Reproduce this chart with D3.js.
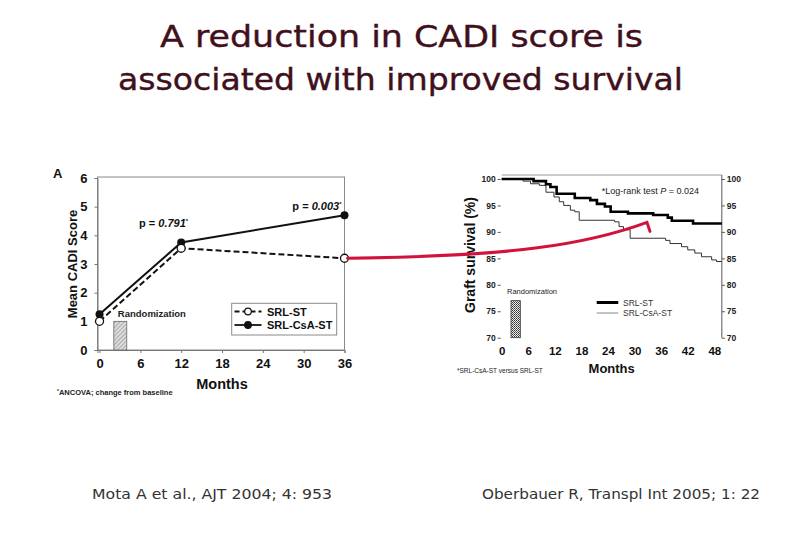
<!DOCTYPE html>
<html>
<head>
<meta charset="utf-8">
<script src="https://cdn.jsdelivr.net/npm/d3@7"></script>
<style>
  html, body { margin: 0; padding: 0; background: #fff; }
  svg { display: block; }
  text { font-family: "Liberation Sans", Arial, sans-serif; }
</style>
</head>
<body>
<svg id="chart" width="810" height="540"></svg>
<script>
// ---------- DATA ----------
const titleLines = ["A reduction in CADI score is", "associated with improved survival"];
const footLeft = "Mota A et al., AJT 2004; 4: 953";
const footRight = "Oberbauer R, Transpl Int 2005; 1: 22";

// Panel A: mean CADI score
const cadiMonths = [0, 12, 36];
const cadiSRLST = [1.0, 3.55, 3.2];
const cadiSRLCsA = [1.25, 3.75, 4.7];
const cadiXTicks = [0, 6, 12, 18, 24, 30, 36];
const cadiYTicks = [0, 1, 2, 3, 4, 5, 6];
const cadiPLabels = ["0.791", "0.003"];
const cadiPMonths = [12, 36];
const randomizationMonths = [2.1, 4.0];
const randomizationCadiHeight = 1.0;

// Graft survival (Kaplan-Meier steps)
const survMonthsST = [0, 7.2, 10, 11, 12.4, 16.5, 20, 21.5, 23.3, 24.6, 28.5, 34.2, 37.5, 38.4, 43.2, 49.7];
const survST = [100, 99.6, 99.0, 98.5, 97.2, 96.4, 96.0, 95.3, 94.8, 93.8, 93.5, 93.2, 92.7, 92.1, 91.6, 91.6];
const survMonthsCsA = [0, 4.8, 6.5, 8.5, 10, 11.8, 13, 14, 15.5, 16.5, 17.5, 25.5, 26.5, 27.5, 29, 37, 38, 40.6, 42, 43.6, 45.1, 47.4, 48.5, 49.7];
const survCsA = [100, 99.6, 99.1, 98.8, 97.5, 96.6, 95.7, 95.0, 94.1, 93.8, 92.2, 91.9, 91.0, 90.4, 88.8, 88.4, 87.8, 87.2, 86.6, 86.0, 85.3, 84.7, 84.4, 84.4];
const survXTicks = [0, 6, 12, 18, 24, 30, 36, 42, 48];
const survYTicks = [70, 75, 80, 85, 90, 95, 100];
const survRandMonths = [2.1, 4.2];
const survRandTop = 77;
const arrowTarget = [32.8, 91.8]; // month, survival %

// ---------- DRAW ----------
const svg = d3.select("#chart");
const defs = svg.append("defs");
const hatch = defs.append("pattern").attr("id", "hatchA").attr("patternUnits", "userSpaceOnUse")
  .attr("width", 3).attr("height", 3).attr("patternTransform", "rotate(45)");
hatch.append("rect").attr("width", 3).attr("height", 3).attr("fill", "#ddd");
hatch.append("line").attr("x1", 0).attr("y1", 0).attr("x2", 0).attr("y2", 3).attr("stroke", "#777").attr("stroke-width", 1);
const dots = defs.append("pattern").attr("id", "dotsB").attr("patternUnits", "userSpaceOnUse")
  .attr("width", 2).attr("height", 2);
dots.append("rect").attr("width", 2).attr("height", 2).attr("fill", "#eee");
dots.append("rect").attr("width", 1).attr("height", 1).attr("fill", "#333");
dots.append("rect").attr("x", 1).attr("y", 1).attr("width", 1).attr("height", 1).attr("fill", "#555");

// Title
const titleColor = "#40101c";
const titleX = [[160, 643], [118, 683]];
const titleY = [47, 90];
titleLines.forEach((t, i) => {
  svg.append("text").attr("x", titleX[i][0]).attr("y", titleY[i])
    .attr("textLength", titleX[i][1] - titleX[i][0]).attr("lengthAdjust", "spacingAndGlyphs")
    .style("font-family", "'DejaVu Sans', sans-serif").style("font-size", "31px")
    .attr("fill", titleColor).attr("stroke", titleColor).attr("stroke-width", 0.4).text(t);
});

// Footers
svg.append("text").attr("x", 92).attr("y", 499).attr("textLength", 240).attr("lengthAdjust", "spacingAndGlyphs")
  .style("font-family", "'DejaVu Sans', sans-serif").style("font-size", "14px").attr("fill", "#333").text(footLeft);
svg.append("text").attr("x", 482).attr("y", 499).attr("textLength", 278).attr("lengthAdjust", "spacingAndGlyphs")
  .style("font-family", "'DejaVu Sans', sans-serif").style("font-size", "14px").attr("fill", "#333").text(footRight);

// ----- Panel A -----
const xL = d3.scaleLinear().domain([-0.3, 36]).range([97.5, 344.5]);
const yL = d3.scaleLinear().domain([0, 6]).range([350, 178]);
const gA = svg.append("g");

// frame
gA.append("rect").attr("x", xL.range()[0]).attr("y", 177).attr("width", xL.range()[1] - xL.range()[0])
  .attr("height", yL(0) - 177).attr("fill", "none").attr("stroke", "#8a8a8a").attr("stroke-width", 1);

const axL = gA.append("g").attr("transform", `translate(${xL.range()[0]},0)`)
  .call(d3.axisLeft(yL).tickValues(cadiYTicks).tickFormat(d3.format("d")).tickSize(3).tickPadding(7));
const axB = gA.append("g").attr("transform", `translate(0,${yL(0)})`)
  .call(d3.axisBottom(xL).tickValues(cadiXTicks).tickFormat(d3.format("d")).tickSize(3).tickPadding(6));
[axL, axB].forEach(a => {
  a.select(".domain").attr("stroke", "#777");
  a.selectAll(".tick line").attr("stroke", "#777");
  a.selectAll(".tick text").style("font-size", "13px").style("font-weight", "bold").attr("fill", "#111");
});

// randomization bar
gA.append("rect").attr("x", xL(randomizationMonths[0])).attr("y", yL(randomizationCadiHeight))
  .attr("width", xL(randomizationMonths[1]) - xL(randomizationMonths[0]))
  .attr("height", yL(0) - yL(randomizationCadiHeight))
  .attr("fill", "url(#hatchA)").attr("stroke", "#666").attr("stroke-width", 0.8);
gA.append("text").attr("x", xL(randomizationMonths[0]) + 4).attr("y", yL(randomizationCadiHeight) - 4)
  .style("font-size", "9.5px").style("font-weight", "bold").attr("fill", "#222").text("Randomization");

// lines
const lineL = d3.line().x(d => xL(d[0])).y(d => yL(d[1]));
const ptsST = cadiMonths.map((m, i) => [m, cadiSRLST[i]]);
const ptsCsA = cadiMonths.map((m, i) => [m, cadiSRLCsA[i]]);
gA.append("path").attr("d", lineL(ptsCsA)).attr("fill", "none").attr("stroke", "#111").attr("stroke-width", 2);
gA.append("path").attr("d", lineL(ptsST)).attr("fill", "none").attr("stroke", "#111").attr("stroke-width", 2)
  .attr("stroke-dasharray", "6,3");
gA.selectAll(".ptCsA").data(ptsCsA).join("circle").attr("cx", d => xL(d[0])).attr("cy", d => yL(d[1]))
  .attr("r", 4).attr("fill", "#111");
gA.selectAll(".ptST").data(ptsST).join("circle").attr("cx", d => xL(d[0])).attr("cy", d => yL(d[1]))
  .attr("r", 4).attr("fill", "#fff").attr("stroke", "#111").attr("stroke-width", 1.3);

// p labels
const pY = [227, 210];
cadiPLabels.forEach((p, i) => {
  const xEnd = xL(cadiPMonths[i]);
  const t = gA.append("text").attr("x", i === 0 ? xEnd + 7 : xEnd - 3).attr("y", pY[i])
    .attr("text-anchor", "end").style("font-size", "11px").style("font-weight", "bold").attr("fill", "#111");
  t.append("tspan").text("p = ");
  t.append("tspan").style("font-style", "italic").text(p);
  t.append("tspan").attr("dy", -4).style("font-size", "6px").text("*");
});

// axis titles
gA.append("text").attr("transform", `translate(76.5,${(yL(0) + yL(6)) / 2}) rotate(-90)`)
  .attr("text-anchor", "middle").style("font-size", "13px").style("font-weight", "bold").attr("fill", "#111")
  .text("Mean CADI Score");
gA.append("text").attr("x", (xL(0) + xL(36)) / 2).attr("y", 389).attr("text-anchor", "middle")
  .style("font-size", "14.5px").style("font-weight", "bold").attr("fill", "#111").text("Months");
gA.append("text").attr("x", 53).attr("y", 178).style("font-size", "13px").style("font-weight", "bold")
  .attr("fill", "#111").text("A");
const fnA = gA.append("text").attr("x", 57).attr("y", 395).style("font-size", "7.5px").style("font-weight", "bold").attr("fill", "#222");
fnA.append("tspan").attr("dy", -2).style("font-size", "5px").text("*");
fnA.append("tspan").attr("dy", 2).text("ANCOVA; change from baseline");

// legend A
const lgA = gA.append("g");
lgA.append("rect").attr("x", 231.7).attr("y", 303.3).attr("width", 105).attr("height", 31.7)
  .attr("fill", "#fff").attr("stroke", "#8a8a8a").attr("stroke-width", 1);
const lgItems = [{ name: "SRL-ST", dash: "5,3", fill: "#fff", y: 311.5 }, { name: "SRL-CsA-ST", dash: null, fill: "#111", y: 325 }];
lgItems.forEach(it => {
  lgA.append("line").attr("x1", 234.5).attr("x2", 261.5).attr("y1", it.y).attr("y2", it.y)
    .attr("stroke", "#111").attr("stroke-width", 1.8).attr("stroke-dasharray", it.dash);
  lgA.append("circle").attr("cx", 248).attr("cy", it.y).attr("r", 3.3).attr("fill", it.fill)
    .attr("stroke", "#111").attr("stroke-width", 1.2);
  lgA.append("text").attr("x", 267).attr("y", it.y + 4).style("font-size", "11px").style("font-weight", "bold")
    .attr("fill", "#111").text(it.name);
});

// ----- Survival panel -----
const xR = d3.scaleLinear().domain([0, 48]).range([501.7, 714.3]);
const yR = d3.scaleLinear().domain([70, 100]).range([337.7, 179]);
const gB = svg.append("g");
const xRight = xR(49.7);
gB.append("line").attr("x1", xR(0)).attr("x2", xRight).attr("y1", 175).attr("y2", 175).attr("stroke", "#999").attr("stroke-width", 1);

const axRL = gB.append("g").attr("transform", `translate(${xR(0) - 1},0)`)
  .call(d3.axisLeft(yR).tickValues(survYTicks).tickSize(3).tickPadding(2));
const axRR = gB.append("g").attr("transform", `translate(${xRight},0)`)
  .call(d3.axisRight(yR).tickValues(survYTicks).tickSize(3).tickPadding(2));
axRL.select(".domain").remove();
axRR.select(".domain").attr("d", `M0,175V${yR(70)}`).attr("stroke", "#555");
[axRL, axRR].forEach(a => {
  a.selectAll(".tick line").attr("stroke", "#555");
  a.selectAll(".tick text").style("font-size", "8.5px").style("font-weight", "bold").attr("fill", "#222");
});
const axRB = gB.append("g").attr("transform", `translate(0,${yR(70)})`)
  .call(d3.axisBottom(xR).tickValues(survXTicks).tickSize(0).tickPadding(9));
axRB.select(".domain").remove();
axRB.selectAll(".tick text").style("font-size", "11.5px").style("font-weight", "bold").attr("fill", "#111");

// randomization bar
gB.append("rect").attr("x", xR(survRandMonths[0])).attr("y", yR(survRandTop))
  .attr("width", xR(survRandMonths[1]) - xR(survRandMonths[0])).attr("height", yR(70) - yR(survRandTop))
  .attr("fill", "url(#dotsB)").attr("stroke", "#333").attr("stroke-width", 0.8);
gB.append("text").attr("x", 507).attr("y", 294).style("font-size", "7.5px").attr("fill", "#222").text("Randomization");

// KM curves
const stepLine = d3.line().x(d => xR(d[0])).y(d => yR(d[1])).curve(d3.curveStepAfter);
gB.append("path").attr("d", stepLine(survMonthsCsA.map((m, i) => [m, survCsA[i]])))
  .attr("fill", "none").attr("stroke", "#333").attr("stroke-width", 1);
gB.append("path").attr("d", stepLine(survMonthsST.map((m, i) => [m, survST[i]])))
  .attr("fill", "none").attr("stroke", "#000").attr("stroke-width", 2.6);

// annotation
const lr = gB.append("text").attr("x", 601.7).attr("y", 193.5).style("font-size", "9px").attr("fill", "#222");
lr.append("tspan").text("*Log-rank test ");
lr.append("tspan").style("font-style", "italic").text("P");
lr.append("tspan").text(" = 0.024");

// legend B
const lgB = [{ name: "SRL-ST", w: 3, c: "#000", y: 302.5 }, { name: "SRL-CsA-ST", w: 1, c: "#888", y: 313 }];
lgB.forEach(it => {
  gB.append("line").attr("x1", 596.7).attr("x2", 618.3).attr("y1", it.y).attr("y2", it.y)
    .attr("stroke", it.c).attr("stroke-width", it.w);
  gB.append("text").attr("x", 623).attr("y", it.y + 3).style("font-size", "8.5px").attr("fill", "#333").text(it.name);
});

// axis titles
gB.append("text").attr("transform", `translate(475,255) rotate(-90)`).attr("text-anchor", "middle")
  .style("font-size", "14px").style("font-weight", "bold").attr("fill", "#111").text("Graft survival (%)");
gB.append("text").attr("x", 611.7).attr("y", 373).attr("text-anchor", "middle")
  .style("font-size", "13px").style("font-weight", "bold").attr("fill", "#111").text("Months");
gB.append("text").attr("x", 457).attr("y", 373).style("font-size", "6.5px").attr("fill", "#222")
  .text("*SRL-CsA-ST versus SRL-ST");

// ----- Red arrow linking the panels -----
const a0 = [xL(36), yL(cadiSRLST[2])];
const a1 = [xR(arrowTarget[0]), yR(arrowTarget[1])];
const arrowPath = d3.path();
arrowPath.moveTo(a0[0] + 3, a0[1]);
arrowPath.bezierCurveTo(a0[0] + 170, a0[1] - 2, a1[0] - 60, a1[1] + 22, a1[0], a1[1]);
arrowPath.lineTo(a1[0] + 3, a1[1] + 9);
svg.append("path").attr("d", arrowPath.toString()).attr("fill", "none")
  .attr("stroke", "#d2123c").attr("stroke-width", 3).attr("stroke-linejoin", "miter").attr("stroke-linecap", "round");
</script>
</body>
</html>
